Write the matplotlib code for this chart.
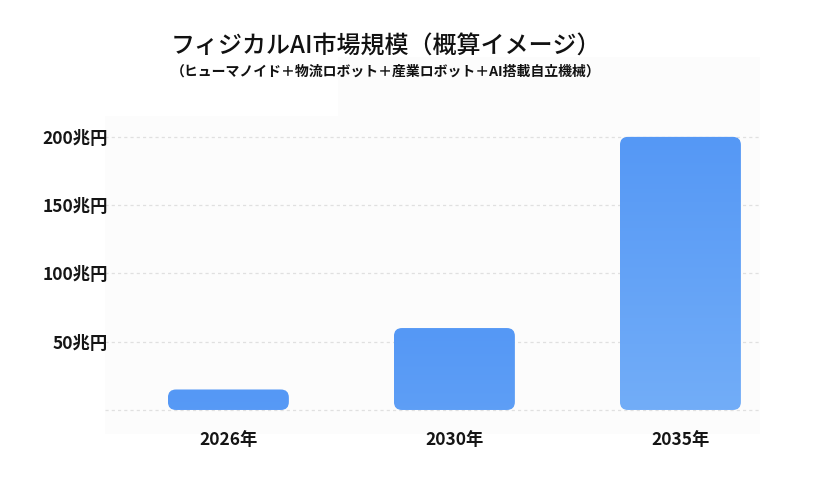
import matplotlib
matplotlib.use("Agg")
import matplotlib.pyplot as plt
import numpy as np
from matplotlib.patches import FancyBboxPatch, Rectangle
from matplotlib.colors import to_rgb

plt.rcParams['font.family'] = ['Noto Sans CJK JP', 'DejaVu Sans']

# data
years = ['2026年', '2030年', '2035年']
values = [15, 60, 200]
ytick_vals = [0, 50, 100, 150, 200]
ytick_labels = ['', '50兆円', '100兆円', '150兆円', '200兆円']
title = 'フィジカルAI市場規模（概算イメージ）'
subtitle = '（ヒューマノイド＋物流ロボット＋産業ロボット＋AI搭載自立機械）'

W, H = 820, 497
fig = plt.figure(figsize=(W / 100, H / 100), dpi=100)
fig.patch.set_facecolor('white')

L, R, B, T = 105, 760, 434, 57
ax = fig.add_axes([L / W, 1 - B / H, (R - L) / W, (B - T) / H])
ax.set_facecolor('#fcfcfc')
for s in ax.spines.values():
    s.set_visible(False)

ax.set_xlim(-0.546, 2.352)
ax.set_ylim(-17.6, 258.5)

x = np.arange(len(years))
bw = 0.535
bars = ax.bar(x, values, width=bw, color='none', edgecolor='none')

ax.set_yticks(ytick_vals)
ax.set_yticklabels(ytick_labels, fontsize=12.5, fontweight='bold', color='#151515')
ax.set_xticks(x)
ax.set_xticklabels(years, fontsize=12.5, fontweight='bold', color='#151515')
ax.tick_params(axis='y', length=0, pad=-2)
ax.tick_params(axis='x', length=0, pad=-2)
ax.grid(axis='y', color='#e0e0e0', linestyle=(0, (2.5, 2.5)), linewidth=0.9)
ax.set_axisbelow(True)

# pixel scales
px_per_x = (R - L) / (2.352 + 0.546)
px_per_y = (B - T) / (258.5 + 17.6)
rad_px = 8
rx = rad_px / px_per_x
aspect = (rad_px / px_per_y) / rx

top_c = np.array(to_rgb('#5598f5'))
bot_c = np.array(to_rgb('#72adf8'))
vmax = max(values)
for rect, v in zip(bars, values):
    x0 = rect.get_x()
    w = rect.get_width()
    h = rect.get_height()
    patch = FancyBboxPatch((x0, 0), w, h,
                           boxstyle=f"round,pad=0,rounding_size={rx}",
                           mutation_aspect=aspect,
                           facecolor='none', edgecolor='none', zorder=2)
    ax.add_patch(patch)
    n = 200
    t = np.linspace(0, 1, n) * (v / vmax)  # 0 at top
    cols = top_c[None, :] + (bot_c - top_c)[None, :] * t[:, None]
    img = cols[:, None, :]
    im = ax.imshow(img, extent=(x0, x0 + w, 0, h), origin='upper',
                   aspect='auto', zorder=2, interpolation='bilinear')
    im.set_clip_path(patch)

ax.set_xlim(-0.546, 2.352)
ax.set_ylim(-17.6, 258.5)

# white title box
fig.patches.append(Rectangle((0, 1 - 116 / H), 338 / W, 116 / H,
                             transform=fig.transFigure, facecolor='white',
                             edgecolor='none', zorder=1))

fig.text(386 / W, 1 - 47 / H, title, ha='center', va='center',
         fontsize=17.3, fontweight='medium', color='#111111')
fig.text(386 / W, 1 - 72 / H, subtitle, ha='center', va='center',
         fontsize=10, fontweight='bold', color='#111111')

fig.savefig('out.png', dpi=100)
